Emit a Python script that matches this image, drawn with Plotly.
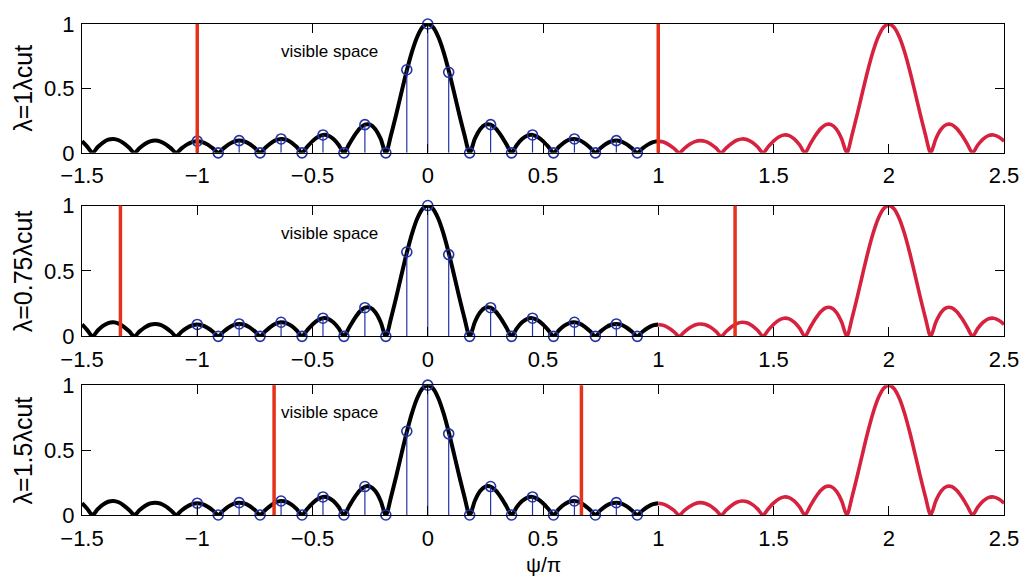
import plotly.graph_objects as go

# ---------------- data ----------------
# |array factor| sampled every 1/44 in psi/pi
black_start = -1.5
red_start = 1.0
curve_step = 1 / 44
black_curve = [
    0.091, 0.048, 0.000, 0.045, 0.080, 0.102, 0.108, 0.098, 0.073, 0.039, 0.000,
    0.038, 0.069, 0.089, 0.095, 0.087, 0.066, 0.035, 0.000, 0.035, 0.064, 0.084,
    0.091, 0.084, 0.064, 0.035, 0.000, 0.035, 0.066, 0.087, 0.095, 0.089, 0.069,
    0.038, 0.000, 0.039, 0.073, 0.098, 0.108, 0.102, 0.080, 0.045, 0.000, 0.048,
    0.091, 0.123, 0.139, 0.134, 0.107, 0.061, 0.000, 0.068, 0.134, 0.188, 0.219,
    0.219, 0.184, 0.110, 0.000, 0.141, 0.302, 0.473, 0.639, 0.786, 0.901, 0.975,
    1.000,
    0.975, 0.901, 0.786, 0.639, 0.473, 0.302, 0.141, 0.000, 0.110, 0.184, 0.219,
    0.219, 0.188, 0.134, 0.068, 0.000, 0.061, 0.107, 0.134, 0.139, 0.123, 0.091,
    0.048, 0.000, 0.045, 0.080, 0.102, 0.108, 0.098, 0.073, 0.039, 0.000, 0.038,
    0.069, 0.089, 0.095, 0.087, 0.066, 0.035, 0.000, 0.035, 0.064, 0.084, 0.091,
]
red_curve = [
    0.091, 0.084, 0.064, 0.035, 0.000, 0.035, 0.066, 0.087, 0.095, 0.089, 0.069,
    0.038, 0.000, 0.039, 0.073, 0.098, 0.108, 0.102, 0.080, 0.045, 0.000, 0.048,
    0.091, 0.123, 0.139, 0.134, 0.107, 0.061, 0.000, 0.068, 0.134, 0.188, 0.219,
    0.219, 0.184, 0.110, 0.000, 0.141, 0.302, 0.473, 0.639, 0.786, 0.901, 0.975,
    1.000,
    0.975, 0.901, 0.786, 0.639, 0.473, 0.302, 0.141, 0.000, 0.110, 0.184, 0.219,
    0.219, 0.188, 0.134, 0.068, 0.000, 0.061, 0.107, 0.134, 0.139, 0.123, 0.091,
]
# sampled points (stems), every 1/11 from -1
sample_start = -1.0
sample_step = 1 / 11
sample_values = [0.091, 0.0, 0.095, 0.0, 0.108, 0.0, 0.139, 0.0, 0.219, 0.0, 0.645,
                 1.0, 0.625, 0.0, 0.219, 0.0, 0.139, 0.0, 0.108, 0.0, 0.095, 0.0]

visible_limits = [1.0, 4 / 3, 2 / 3]
row_labels = ["λ=1λcut", "λ=0.75λcut", "λ=1.5λcut"]
x_ticks = [-1.5, -1, -0.5, 0, 0.5, 1, 1.5, 2, 2.5]
x_tick_labels = ["−1.5", "−1", "−0.5", "0", "0.5", "1", "1.5", "2", "2.5"]
y_ticks = [0, 0.5, 1]
y_tick_labels = ["0", "0.5", "1"]
annotation_text = "visible space"
x_title = "ψ/π"

# ---------------- styling ----------------
FONT = "Liberation Sans, Arial, Helvetica, sans-serif"
BLACK = "#000000"
RED_CURVE = "#d6223f"
RED_LINE = "#e5321b"
BLUE = "#2434a8"

W, H = 1031, 579
L, R, T, B = 82, 22, 12, 64
plot_h = H - T - B
panel_px = [(12, 144), (198, 332), (382, 515)]  # top, bottom in px


def dom(top, bottom):
    return [(H - B - bottom) / plot_h, (H - B - top) / plot_h]


fig = go.Figure()
layout = dict(
    width=W, height=H,
    margin=dict(l=L, r=R, t=T, b=B),
    paper_bgcolor="white", plot_bgcolor="white",
    showlegend=False,
    font=dict(family=FONT, color="black"),
)
annotations = []
shapes = []

for i in range(3):
    n = "" if i == 0 else str(i + 1)
    xa, ya = "x" + n, "y" + n
    top, bottom = panel_px[i]
    common = dict(showline=True, linecolor="black", linewidth=1.2, mirror="ticks",
                  ticks="inside", ticklen=9, tickwidth=1.2, tickcolor="black",
                  showgrid=False, zeroline=False,
                  tickfont=dict(family=FONT, size=22, color="black"))
    layout["xaxis" + n] = dict(domain=[0, 1], range=[-1.5, 2.5], anchor=ya,
                               tickvals=x_ticks, ticktext=x_tick_labels,
                               ticklabelstandoff=3, **common)
    layout["yaxis" + n] = dict(domain=dom(top, bottom), range=[0, 1], anchor=xa,
                               tickvals=y_ticks, ticktext=y_tick_labels,
                               ticklabelstandoff=2, **common)

    fig.add_trace(go.Scatter(y=black_curve, x0=black_start, dx=curve_step, mode="lines",
                             line=dict(color=BLACK, width=4, shape="spline", smoothing=0.8),
                             xaxis=xa, yaxis=ya, hoverinfo="skip"))
    fig.add_trace(go.Scatter(y=red_curve, x0=red_start, dx=curve_step, mode="lines",
                             line=dict(color=RED_CURVE, width=3.6, shape="spline", smoothing=0.8),
                             xaxis=xa, yaxis=ya, hoverinfo="skip"))
    fig.add_trace(go.Scatter(y=sample_values, x0=sample_start, dx=sample_step, mode="markers",
                             marker=dict(symbol="circle-open", size=10, color=BLUE,
                                         line=dict(width=1.6, color=BLUE)),
                             error_y=dict(type="data", symmetric=False,
                                          array=[0] * len(sample_values),
                                          arrayminus=sample_values,
                                          thickness=1.2, width=0, color=BLUE),
                             cliponaxis=False, xaxis=xa, yaxis=ya))
    v = visible_limits[i]
    for xv in (-v, v):
        shapes.append(dict(type="line", xref=xa, yref=ya + " domain", x0=xv, x1=xv,
                           y0=0, y1=1, line=dict(color=RED_LINE, width=3.5), layer="above"))
    annotations.append(dict(xref=xa, yref=ya, x=-0.645, y=0.79, xanchor="left",
                            yanchor="middle", text=annotation_text, showarrow=False,
                            font=dict(family=FONT, size=17, color="black")))
    ymid = (H - B - (top + bottom) / 2) / plot_h
    annotations.append(dict(xref="paper", yref="paper", x=-59 / (W - L - R), y=ymid,
                            xanchor="center", yanchor="middle", textangle=-90,
                            text=row_labels[i], showarrow=False,
                            font=dict(family=FONT, size=25, color="black")))

annotations.append(dict(xref="paper", yref="paper", x=0.5, y=(515 - 566) / plot_h,
                        xanchor="center", yanchor="middle", text=x_title, showarrow=False,
                        font=dict(family=FONT, size=21, color="black")))
layout["annotations"] = annotations
layout["shapes"] = shapes
fig.update_layout(**layout)
fig.write_html("out.html")
